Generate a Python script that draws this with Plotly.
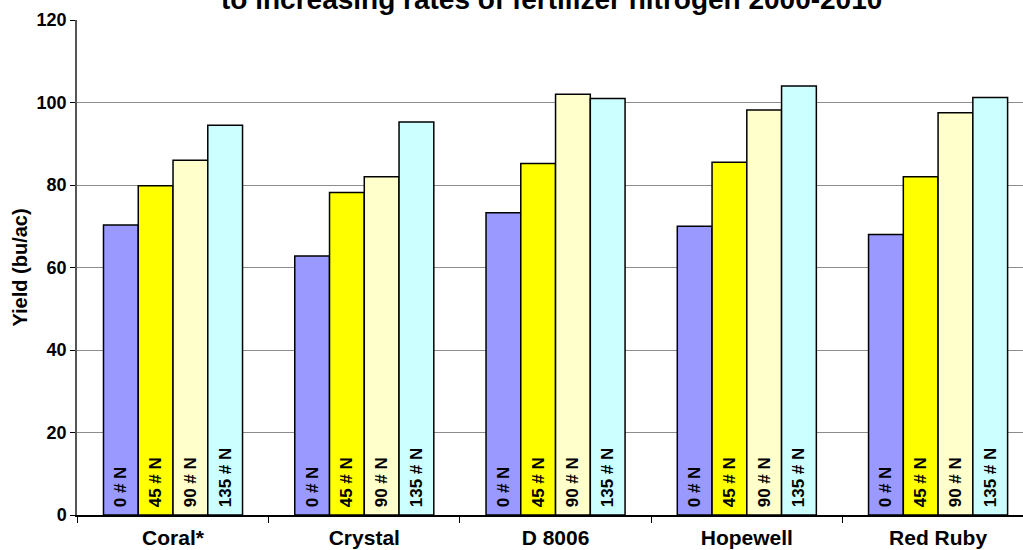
import plotly.graph_objects as go

categories = ["Coral*", "Crystal", "D 8006", "Hopewell", "Red Ruby"]
series_names = ["0 # N", "45 # N", "90 # N", "135 # N"]
yield_0 = [70.3, 62.8, 73.3, 70.0, 68.0]
yield_45 = [79.8, 78.2, 85.2, 85.5, 82.0]
yield_90 = [86.0, 82.0, 102.0, 98.2, 97.5]
yield_135 = [94.5, 95.3, 101.0, 104.0, 101.2]
colors = ["#9999FF", "#FFFF00", "#FFFFCC", "#CCFFFF"]
y_ticks = [0, 20, 40, 60, 80, 100, 120]
title_text = "to increasing rates of fertilizer nitrogen 2000-2010"

FONT = "Liberation Sans"
PAD = "\u00a0"

fig = go.Figure()
for name, vals, col in zip(series_names, [yield_0, yield_45, yield_90, yield_135], colors):
    fig.add_trace(go.Bar(
        x=categories, y=vals, name=name, marker_color=col,
        marker_line_color="#000000", marker_line_width=1.5,
        text=[PAD + name] * len(vals), textposition="inside", insidetextanchor="start",
        textangle=-90, textfont=dict(family=FONT, size=17, color="#000000", weight="bold"),
        cliponaxis=False,
    ))

fig.update_layout(
    width=1023, height=550, barmode="group", bargap=0.273, bargroupgap=0,
    plot_bgcolor="#FFFFFF", paper_bgcolor="#FFFFFF", showlegend=False,
    margin=dict(l=77, r=0, t=20, b=35),
    font=dict(family=FONT, color="#000000"),
    uniformtext=dict(minsize=17, mode="show"),
)
fig.update_xaxes(
    range=[-0.502, 4.444], tickson="boundaries", ticks="outside", ticklen=6,
    tickcolor="#000000", showline=True, linecolor="#000000", linewidth=1.5,
    tickfont=dict(size=21, weight="bold", family=FONT), automargin=False,
    ticklabelstandoff=3,
)
fig.update_yaxes(
    range=[0, 120], tickvals=y_ticks, ticks="outside", ticklen=5, tickcolor="#000000",
    showline=True, linecolor="#555555", linewidth=1.5, showgrid=True, gridcolor="#8c8c8c",
    gridwidth=1, zeroline=False, automargin=False,
    tickfont=dict(size=18, weight="bold", family=FONT),
    title=dict(text="Yield (bu/ac)", font=dict(size=20, weight="bold", family=FONT), standoff=4),
)
fig.add_annotation(
    text=title_text,
    xref="paper", yref="paper", x=0.502, y=1.0, yshift=21, yanchor="middle",
    showarrow=False, font=dict(size=28, weight="bold", family=FONT),
)
fig.write_html(
    "out.html",
    config={"displayModeBar": False},
    post_script="document.body.style.margin='0';document.body.style.overflow='hidden';",
)
